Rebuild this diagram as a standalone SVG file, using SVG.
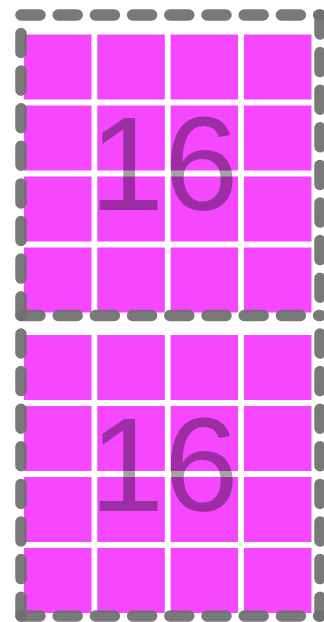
<svg xmlns="http://www.w3.org/2000/svg" width="324" height="622" viewBox="0 0 324 622">
<style>
.tile{fill:#f547ff}
.num{font-family:"Liberation Sans",Arial,sans-serif;font-size:134px;fill:#000;fill-opacity:0.36;text-anchor:middle}
.h{stroke:#6f6f6f;stroke-opacity:0.93;stroke-width:11.5;stroke-linecap:round;fill:none;stroke-dasharray:19 18.2}
.v{stroke:#6f6f6f;stroke-opacity:0.93;stroke-width:11.5;stroke-linecap:round;fill:none;stroke-dasharray:19 18.6}
</style>
<defs>
<g id="grid">
<rect class="tile" x="24" y="34.5" width="67.5" height="65"/>
<rect class="tile" x="97.3" y="34.5" width="67.5" height="65"/>
<rect class="tile" x="170.6" y="34.5" width="67.5" height="65"/>
<rect class="tile" x="244" y="34.5" width="67.5" height="65"/>
<rect class="tile" x="24" y="105.5" width="67.5" height="65"/>
<rect class="tile" x="97.3" y="105.5" width="67.5" height="65"/>
<rect class="tile" x="170.6" y="105.5" width="67.5" height="65"/>
<rect class="tile" x="244" y="105.5" width="67.5" height="65"/>
<rect class="tile" x="24" y="176.5" width="67.5" height="65"/>
<rect class="tile" x="97.3" y="176.5" width="67.5" height="65"/>
<rect class="tile" x="170.6" y="176.5" width="67.5" height="65"/>
<rect class="tile" x="244" y="176.5" width="67.5" height="65"/>
<rect class="tile" x="24" y="247.5" width="67.5" height="65"/>
<rect class="tile" x="97.3" y="247.5" width="67.5" height="65"/>
<rect class="tile" x="170.6" y="247.5" width="67.5" height="65"/>
<rect class="tile" x="244" y="247.5" width="67.5" height="65"/>
</g>
</defs>
<g id="panel1">
<use href="#grid"/>
<text class="num" x="164" y="210">16</text>
<line class="h" x1="21" y1="15" x2="320" y2="15"/>
<line class="h" x1="21" y1="315.5" x2="320" y2="315.5"/>
<line class="v" x1="21" y1="15" x2="21" y2="315.5" stroke-dashoffset="19.1"/>
<line class="v" x1="320" y1="15" x2="320" y2="315.5"/>
</g>
<g id="panel2">
<use href="#grid" y="300.5"/>
<text class="num" x="164" y="510.5">16</text>
<line class="h" x1="21" y1="616" x2="320" y2="616"/>
<line class="v" x1="21" y1="315.5" x2="21" y2="616" stroke-dashoffset="19.1"/>
<line class="v" x1="320" y1="315.5" x2="320" y2="616" stroke-dashoffset="19.1"/>
</g>
<g id="connectors"/>
</svg>
